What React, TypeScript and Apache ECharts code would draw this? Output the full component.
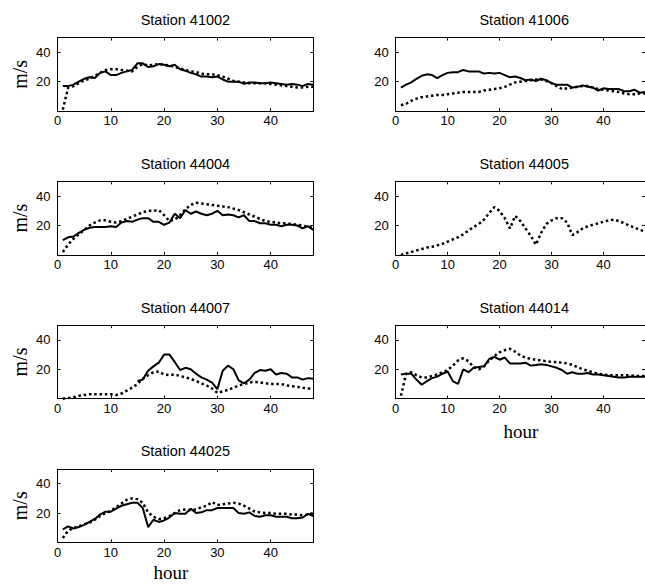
import React, { useEffect, useRef } from "react";
import * as echarts from "echarts";

// hours 1..48
const hours = [
  1, 2, 3, 4, 5, 6, 7, 8, 9, 10, 11, 12, 13, 14, 15, 16, 17, 18, 19, 20, 21, 22, 23, 24,
  25, 26, 27, 28, 29, 30, 31, 32, 33, 34, 35, 36, 37, 38, 39, 40, 41, 42, 43, 44, 45, 46, 47, 48,
];

const xTicks = [0, 10, 20, 30, 40];
const yTicks = [20, 40];

const stationNames = [
  "Station 41002",
  "Station 41006",
  "Station 44004",
  "Station 44005",
  "Station 44007",
  "Station 44014",
  "Station 44025",
];

// solid lines (observed)
const solid41002 = [17, 17, 18, 20, 22, 23, 22.5, 26, 27, 24.5, 24.5, 26, 27, 28, 32.5, 32.5, 30, 30.5, 32, 31.5, 30.5, 31.5, 28.5, 27.5, 26, 25, 23.5, 23.5, 23, 23.5, 21.5, 20, 20, 20, 18.5, 19.5, 19.5, 19, 19, 19.5, 19, 18.5, 18, 18.5, 18, 17, 18.5, 18];
const solid41006 = [16, 18, 19.5, 22, 24, 25, 24.5, 22.5, 24.5, 26, 26.5, 26.5, 28, 27, 27, 27, 25.5, 26, 25.5, 26, 24.5, 23, 23.5, 22.5, 21, 21.5, 20.5, 22, 21, 19, 18, 18, 18, 16, 16.5, 17.5, 16.5, 16, 14, 15.5, 15, 15, 15, 13.5, 13.5, 14.5, 12.5, 13];
const solid44004 = [10, 12, 12.5, 15, 17, 18.5, 19, 19, 19, 19.5, 19, 22, 23, 22.5, 24, 25, 25, 22.5, 22.5, 20.5, 22, 28, 25, 30.5, 28, 29.5, 28, 27, 28, 30, 27, 27.5, 27, 25.5, 27, 23, 23, 21.5, 21.5, 20.5, 20.5, 19.5, 20.5, 20.5, 20, 18, 19.5, 17];
const solid44005: (number | null)[] = [];
const solid44007 = [null, null, null, null, null, null, null, null, null, null, null, null, null, null, 12, 13, 19, 22, 24.5, 30, 30, 25, 19.5, 21, 20, 17, 14.5, 13, 11, 6.5, 19, 22.5, 20, 12.5, 10.5, 13, 17.5, 19.5, 19, 20, 16.5, 17.5, 17, 14.5, 14.5, 13, 14, 13.5];
const solid44014 = [16.5, 17, 17, 13, 9.5, 12, 14, 15, 17, 18.5, 12, 10, 20, 18, 21, 21.5, 22, 27, 28.5, 26.5, 28, 24, 24, 24, 24.5, 22.5, 23, 23.5, 23, 22, 21, 19.5, 17, 18, 17, 17, 17.5, 16.5, 16.5, 16, 15.5, 15, 14.5, 14.5, 15, 15, 15, 15];
const solid44025 = [9, 11, 9.5, 10.5, 12, 14, 16, 19, 21, 21, 23, 25, 26, 27, 27, 23.5, 10.5, 15.5, 14, 15, 17, 20, 19.5, 19.5, 23, 20, 20.5, 22, 22, 23.5, 23.5, 23.5, 23.5, 20, 19.5, 20.5, 18, 17.5, 18.5, 18.5, 17.5, 17.5, 17.5, 16.5, 16.5, 17, 19.5, 18];

// dotted lines (model)
const dotted41002 = [1, 16, 17, 19, 21, 22, 24, 26, 28, 28.5, 28.5, 28, 27.5, 27, 30, 32, 31, 31.5, 32, 31.5, 31, 30, 29, 28, 27, 26.5, 25.5, 25, 25, 24.5, 23.5, 22, 20.5, 20, 19.5, 19, 19, 19, 19, 18.5, 18, 17.5, 17, 16.5, 16, 16, 16.5, 16.5];
const dotted41006 = [4, 5, 7, 8.5, 9.5, 10, 10.5, 11, 11, 11.5, 12, 12.5, 13, 13, 13, 13, 14, 14.5, 15, 15.5, 16.5, 18, 19.5, 20, 20.5, 21, 21.5, 21.5, 20.5, 19, 17, 15, 15.5, 16, 16.5, 17, 17, 16, 15, 14.5, 14, 13.5, 13, 12, 11.5, 11.5, 12, 12];
const dotted44004 = [2, 7, 11, 14, 17, 20, 22, 23.5, 23.5, 22.5, 22, 23, 24.5, 26, 27.5, 29, 30, 30, 30.5, 27, 23, 24, 27, 31, 34, 35.5, 35, 34.5, 34, 33.5, 33, 32.5, 31.5, 30.5, 29, 27.5, 26, 24.5, 23, 22.5, 22, 21.5, 21.5, 21, 20.5, 20, 19, 19];
const dotted44005 = [0, 1, 2, 3, 4, 5, 5.5, 6.5, 7.5, 9, 10.5, 12, 14, 16.5, 19, 21, 24, 28.5, 32.5, 30, 25, 18, 26.5, 23, 18, 13, 7, 15, 21, 23.5, 25, 25, 22, 13.5, 15.5, 18, 19.5, 20.5, 21.5, 22.5, 23.5, 24, 23, 21.5, 20, 18.5, 17, 16];
const dotted44007 = [0, 0.5, 1, 2, 2.5, 3, 3, 3, 3, 3, 2.5, 3.5, 5.5, 7.5, 10, 13.5, 16, 18, 18.5, 16.5, 16, 16.5, 15.5, 14.5, 13.5, 12, 10.5, 9, 7, 4, 5, 6, 7.5, 9, 10, 11, 11.5, 11, 10.5, 10, 10, 10, 9, 8.5, 8, 7.5, 7, 6.5];
const dotted44014 = [2, 17, 18, 16, 14.5, 14.5, 15.5, 16.5, 18, 19.5, 22.5, 26, 27.5, 25.5, 21.5, 20, 22, 26, 29, 31.5, 33, 34, 32, 29.5, 28, 27, 26.5, 26, 25.5, 25, 25, 24.5, 24, 23, 21.5, 20, 19, 18, 17, 16.5, 16, 16, 16, 16, 16, 15.5, 15.5, 15.5];
const dotted44025 = [3, 8, 10, 11, 12.5, 13.5, 15.5, 18, 20, 21.5, 24, 26.5, 29, 30, 29.5, 27, 20.5, 17.5, 16, 16.5, 18, 20, 22, 22.5, 22, 22.5, 24, 25, 27.5, 25.5, 26, 26.5, 27, 26.5, 25, 23, 21, 20.5, 20, 20, 19.5, 19.5, 19.5, 19, 19, 18.5, 19, 20];

const solidSeries = [solid41002, solid41006, solid44004, solid44005, solid44007, solid44014, solid44025];
const dottedSeries = [dotted41002, dotted41006, dotted44004, dotted44005, dotted44007, dotted44014, dotted44025];

const SANS = "'Liberation Sans', Arial, Helvetica, sans-serif";
const SERIF = "'Liberation Serif', 'Times New Roman', serif";

function toPairs(arr: (number | null)[]) {
  return arr.map((v, i) => [hours[i], v]);
}

function buildOption() {
  const colLeft = [57.5, 395.7];
  const colWidth = [255.8, 257];
  const rowTop = [37.6, 181.4, 325.2, 469];
  const plotH = 73.5;

  const grid: any[] = [];
  const xAxis: any[] = [];
  const yAxis: any[] = [];
  const series: any[] = [];
  const graphic: any[] = [];

  const axisLine = { show: true, onZero: false, lineStyle: { color: "#000", width: 1 } };

  stationNames.forEach((name, i) => {
    const col = i % 2;
    const row = Math.floor(i / 2);
    const left = colLeft[col];
    const top = rowTop[row];
    const width = colWidth[col];
    grid.push({ left, top, width, height: plotH, show: false, containLabel: false });

    const xBase = {
      gridIndex: i,
      type: "value",
      min: 0,
      max: 48,
      splitLine: { show: false },
      axisLine,
    };
    xAxis.push({
      ...xBase,
      position: "bottom",
      axisTick: { show: true, inside: true, length: 3, customValues: xTicks, lineStyle: { color: "#000" } },
      axisLabel: { show: true, customValues: xTicks, color: "#000", fontFamily: SANS, fontSize: 13, margin: 3 },
    });
    xAxis.push({
      ...xBase,
      position: "top",
      axisTick: { show: true, inside: true, length: 3, customValues: xTicks, lineStyle: { color: "#000" } },
      axisLabel: { show: false },
    });
    const yBase = {
      gridIndex: i,
      type: "value",
      min: 0,
      max: 50,
      splitLine: { show: false },
      axisLine,
    };
    yAxis.push({
      ...yBase,
      position: "left",
      axisTick: { show: true, inside: true, length: 3, customValues: yTicks, lineStyle: { color: "#000" } },
      axisLabel: { show: true, customValues: yTicks, color: "#000", fontFamily: SANS, fontSize: 13, margin: 7 },
    });
    yAxis.push({
      ...yBase,
      position: "right",
      axisTick: { show: true, inside: true, length: 3, customValues: yTicks, lineStyle: { color: "#000" } },
      axisLabel: { show: false },
    });

    if (solidSeries[i].length) {
      series.push({
        type: "line",
        xAxisIndex: 2 * i,
        yAxisIndex: 2 * i,
        data: toPairs(solidSeries[i]),
        showSymbol: false,
        symbol: "none",
        connectNulls: false,
        lineStyle: { color: "#000", width: 2 },
        z: 3,
      });
    }
    series.push({
      type: "line",
      xAxisIndex: 2 * i,
      yAxisIndex: 2 * i,
      data: toPairs(dottedSeries[i]),
      showSymbol: false,
      symbol: "none",
      lineStyle: { color: "#000", width: 2.5, type: [2.5, 2.8], cap: "butt" },
      z: 2,
    });

    graphic.push({
      type: "text",
      x: left + width / 2,
      y: top - 17.6,
      style: {
        text: name,
        fill: "#000",
        font: `14.5px ${SANS}`,
        textAlign: "center",
        textVerticalAlign: "middle",
      },
    });
    if (col === 0) {
      graphic.push({
        type: "text",
        x: 20,
        y: top + plotH / 2,
        rotation: Math.PI / 2,
        style: {
          text: "m/s",
          fill: "#000",
          font: `20px ${SERIF}`,
          textAlign: "center",
          textVerticalAlign: "middle",
        },
      });
    }
  });

  graphic.push({
    type: "text",
    x: 171,
    y: 572,
    style: { text: "hour", fill: "#000", font: `19px ${SERIF}`, textAlign: "center", textVerticalAlign: "middle" },
  });
  graphic.push({
    type: "text",
    x: 521,
    y: 431,
    style: { text: "hour", fill: "#000", font: `19px ${SERIF}`, textAlign: "center", textVerticalAlign: "middle" },
  });

  return {
    animation: false,
    backgroundColor: "#fff",
    grid,
    xAxis,
    yAxis,
    series,
    graphic,
  };
}

export default function App() {
  const ref = useRef<HTMLDivElement>(null);
  useEffect(() => {
    if (!ref.current) return;
    const chart = echarts.init(ref.current, null, { renderer: "svg" });
    chart.setOption(buildOption() as any);
    return () => chart.dispose();
  }, []);
  return (
    <div
      ref={ref}
      style={{ position: "absolute", left: 0, top: 0, width: 645, height: 585, background: "#fff" }}
    />
  );
}
